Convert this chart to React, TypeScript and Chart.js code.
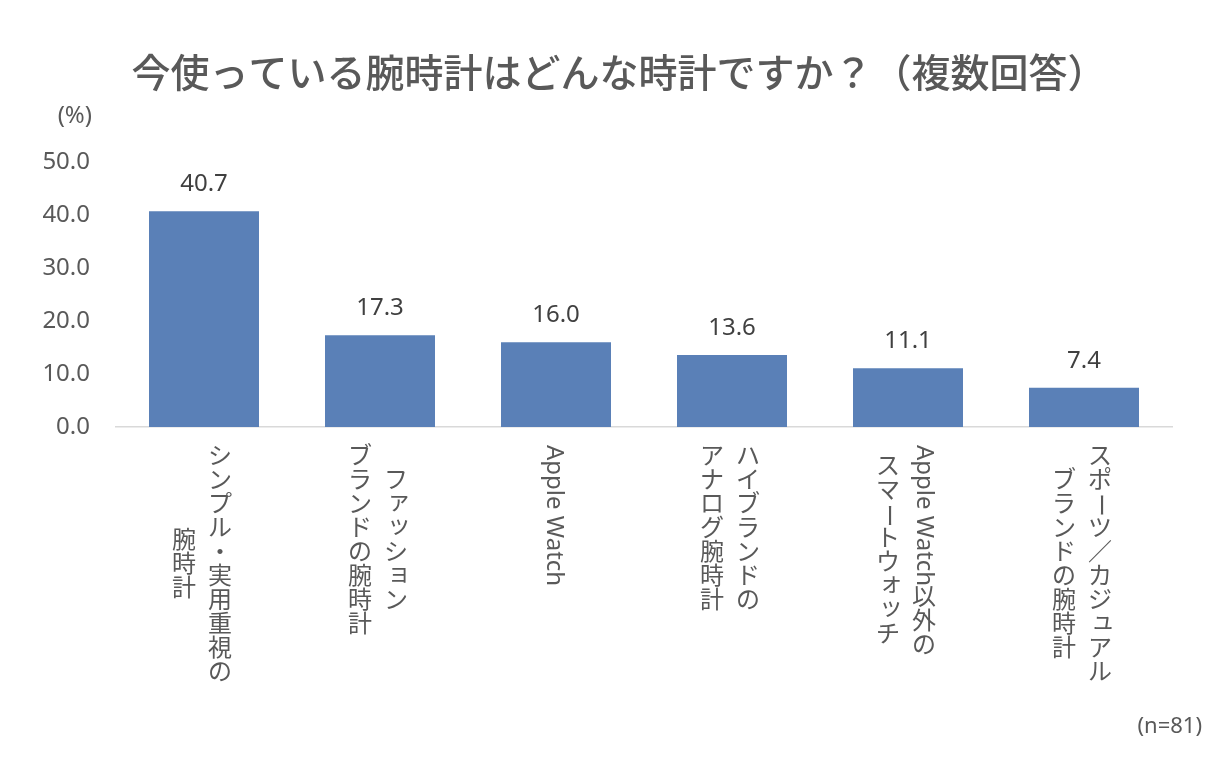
import React, { useEffect, useRef } from "react";
import { Chart, registerables } from "chart.js";

Chart.register(...registerables);

const TITLE = "今使っている腕時計はどんな時計ですか？（複数回答）";
const UNIT_LABEL = "(%)";
const SAMPLE_NOTE = "(n=81)";

// Each category label: first line is the rightmost vertical column
const CATEGORY_LINES: string[][] = [
  ["シンプル・実用重視の", "腕時計"],
  ["ファッション", "ブランドの腕時計"],
  ["Apple Watch"],
  ["ハイブランドの", "アナログ腕時計"],
  ["Apple Watch以外の", "スマートウォッチ"],
  ["スポーツ／カジュアル", "ブランドの腕時計"],
];
const VALUES: number[] = [40.7, 17.3, 16.0, 13.6, 11.1, 7.4];
const Y_MIN = 0;
const Y_MAX = 50;
const Y_STEP = 10;

const FONT = '"Noto Sans", "Noto Sans CJK JP", sans-serif';
const W = 1224;
const H = 759;

const SMALL_KANA = "ァィゥェォッャュョヮぁぃぅぇぉっゃゅょゎ";
const ROTATE_CHARS = "ー－〜";

function segment(line: string): { latin: boolean; text: string }[] {
  const runs: { latin: boolean; text: string }[] = [];
  for (const ch of line) {
    const latin = ch.charCodeAt(0) < 0x2000;
    const last = runs[runs.length - 1];
    if (latin && last && last.latin) last.text += ch;
    else if (latin) runs.push({ latin: true, text: ch });
    else runs.push({ latin: false, text: ch });
  }
  return runs;
}

function columnLength(ctx: CanvasRenderingContext2D, line: string, size: number) {
  let len = 0;
  for (const r of segment(line)) {
    len += r.latin ? ctx.measureText(r.text).width : size;
  }
  return len;
}

function drawColumn(ctx: CanvasRenderingContext2D, line: string, x: number, y: number, size: number) {
  let cy = y;
  for (const r of segment(line)) {
    if (r.latin) {
      const w = ctx.measureText(r.text).width;
      ctx.save();
      ctx.translate(x, cy);
      ctx.rotate(Math.PI / 2);
      ctx.textAlign = "left";
      ctx.textBaseline = "middle";
      ctx.fillText(r.text, 0, 0);
      ctx.restore();
      cy += w;
    } else {
      const ch = r.text;
      let dx = 0;
      let dy = 0;
      if (SMALL_KANA.includes(ch)) {
        dx = size * 0.13;
        dy = -size * 0.13;
      }
      ctx.save();
      ctx.translate(x + dx, cy + size / 2 + dy);
      if (ROTATE_CHARS.includes(ch)) ctx.rotate(Math.PI / 2);
      ctx.textAlign = "center";
      ctx.textBaseline = "middle";
      ctx.fillText(ch, 0, 0);
      ctx.restore();
      cy += size;
    }
  }
}

const overlayPlugin = {
  id: "overlay",
  afterDraw(chart: any) {
    const ctx: CanvasRenderingContext2D = chart.ctx;
    const area = chart.chartArea;
    ctx.save();

    // Title
    ctx.fillStyle = "#595959";
    ctx.font = `500 39px ${FONT}`;
    ctx.textAlign = "center";
    ctx.textBaseline = "middle";
    ctx.fillText(TITLE, 619, 76);

    // Unit label
    ctx.font = `24px ${FONT}`;
    ctx.textAlign = "right";
    ctx.fillText(UNIT_LABEL, 92, 116);

    // Sample note
    ctx.font = `22px ${FONT}`;
    ctx.fillText(SAMPLE_NOTE, 1202, 727);

    // Value labels
    const meta = chart.getDatasetMeta(0);
    ctx.fillStyle = "#404040";
    ctx.font = `24px ${FONT}`;
    ctx.textAlign = "center";
    ctx.textBaseline = "alphabetic";
    meta.data.forEach((bar: any, i: number) => {
      ctx.fillText(VALUES[i].toFixed(1), bar.x, bar.y - 20);
    });

    // Category labels (vertical writing)
    const size = 24;
    const colGap = 36;
    ctx.fillStyle = "#595959";
    ctx.font = `${size}px ${FONT}`;
    const xScale = chart.scales.x;
    const top = area.bottom + 18;
    CATEGORY_LINES.forEach((lines, i) => {
      const cx = xScale.getPixelForValue(i) - 2;
      const lens = lines.map((l) => columnLength(ctx, l, size));
      const maxLen = Math.max(...lens);
      const n = lines.length;
      lines.forEach((l, j) => {
        const x = cx + ((n - 1) / 2 - j) * colGap;
        const y = top + (maxLen - lens[j]) / 2;
        drawColumn(ctx, l, x, y, size);
      });
    });

    ctx.restore();
  },
};

export default function App() {
  const ref = useRef<HTMLCanvasElement | null>(null);

  useEffect(() => {
    if (!ref.current) return;
    const chart = new Chart(ref.current, {
      type: "bar",
      data: {
        labels: CATEGORY_LINES.map((l) => l.join("")),
        datasets: [
          {
            data: VALUES,
            backgroundColor: "#5a80b7",
            barPercentage: 0.625,
            categoryPercentage: 1,
          },
        ],
      },
      options: {
        animation: false,
        responsive: false,
        devicePixelRatio: 1,
        layout: { padding: { top: 162, right: 52, bottom: 0, left: 0 } },
        plugins: {
          legend: { display: false },
          title: { display: false },
          tooltip: { enabled: false },
        },
        scales: {
          x: {
            grid: { display: false, drawTicks: false },
            border: { display: true, color: "#d9d9d9", width: 1.5 },
            ticks: { display: false },
            afterFit: (s: any) => {
              s.height = H - 427;
            },
          },
          y: {
            min: Y_MIN,
            max: Y_MAX,
            grid: { display: false, drawTicks: false },
            border: { display: false },
            ticks: {
              stepSize: Y_STEP,
              padding: 26,
              color: "#595959",
              font: { size: 24, family: FONT },
              callback: (v: any) => Number(v).toFixed(1),
            },
            afterFit: (s: any) => {
              s.width = 116;
            },
          },
        },
      },
      plugins: [overlayPlugin],
    });
    return () => chart.destroy();
  }, []);

  return (
    <div style={{ position: "fixed", left: 0, top: 0, width: W, height: H, background: "#fff" }}>
      <canvas ref={ref} width={W} height={H} style={{ display: "block", width: W, height: H }} />
    </div>
  );
}
